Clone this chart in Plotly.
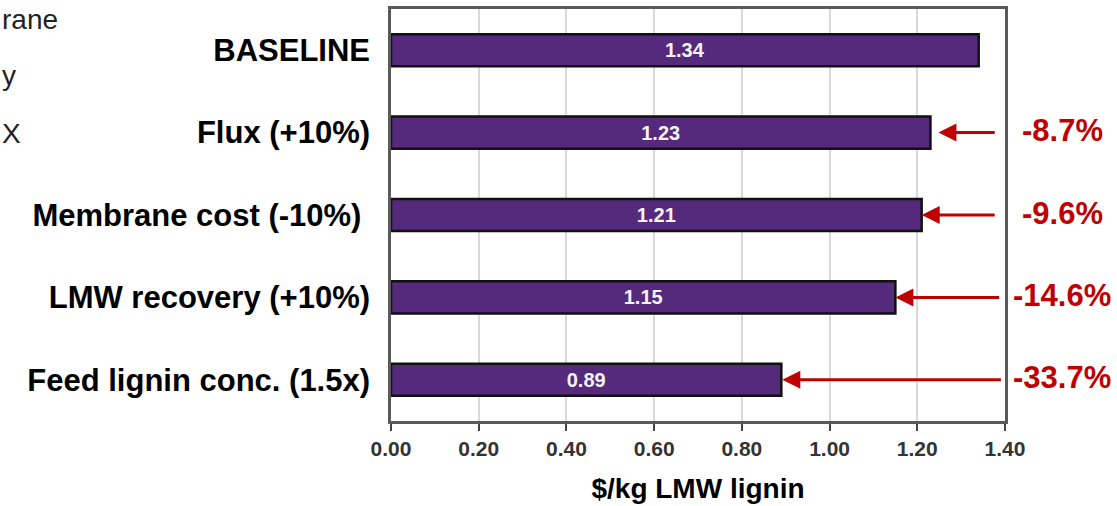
import plotly.graph_objects as go

# ---- data ----
categories = ["BASELINE", "Flux (+10%)", "Membrane cost (-10%)\u00a0",
              "LMW recovery (+10%)", "Feed lignin conc. (1.5x)"]
costs = [1.34, 1.23, 1.21, 1.15, 0.89]
value_labels = ["1.34", "1.23", "1.21", "1.15", "0.89"]
pct_labels = ["", "-8.7%", "-9.6%", "-14.6%", "-33.7%"]
x_ticks = [0.0, 0.2, 0.4, 0.6, 0.8, 1.0, 1.2, 1.4]
x_ticklabels = ["0.00", "0.20", "0.40", "0.60", "0.80", "1.00", "1.20", "1.40"]
x_title = "$/kg LMW lignin"
corner_texts = ["rane", "y", "X"]

# ---- style ----
W, H = 1117, 506
ML, MR, MT, MB = 391, 112, 6, 85
FONT = "Liberation Sans, Arial, sans-serif"
PURPLE = "#55297c"
RED = "#c00000"
arrow_tails = [None, 1.38, 1.38, 1.39, 1.394]
arrow_standoff = [0, 8, 0, 0, 1]

fig = go.Figure()
fig.add_trace(go.Bar(
    y=categories, x=costs, orientation="h",
    width=0.39,
    marker=dict(color=PURPLE, line=dict(color="#111111", width=2.5)),
    text=value_labels, textposition="inside", insidetextanchor="middle",
    textangle=0,
    textfont=dict(family=FONT, size=20, color="#f4f4f4", weight="bold"),
    cliponaxis=False, hoverinfo="skip",
))

annotations = []
for i, cat in enumerate(categories):
    if arrow_tails[i] is None:
        continue
    annotations.append(dict(
        x=costs[i], y=cat, xref="x", yref="y",
        ax=arrow_tails[i], ay=cat, axref="x", ayref="y",
        showarrow=True, arrowhead=2, arrowsize=1.2, arrowwidth=3,
        arrowcolor=RED, standoff=arrow_standoff[i], text="",
    ))
    annotations.append(dict(
        x=1.4, y=cat, xref="x", yref="y", xshift=57, yshift=2,
        text="<b>" + pct_labels[i] + "</b>", showarrow=False,
        xanchor="center", yanchor="middle",
        font=dict(family=FONT, size=31, color=RED),
    ))

plot_w = W - ML - MR
plot_h = H - MT - MB
corner_y_px = [17, 73, 131]
for t, ypx in zip(corner_texts, corner_y_px):
    annotations.append(dict(
        x=(0 - ML) / plot_w, y=(H - MB - ypx) / plot_h,
        xref="paper", yref="paper", text=t, showarrow=False,
        xanchor="left", yanchor="middle",
        font=dict(family=FONT, size=28, color="#222222"),
    ))

fig.update_layout(
    width=W, height=H,
    margin=dict(l=ML, r=MR, t=MT, b=MB, pad=0),
    paper_bgcolor="white", plot_bgcolor="white",
    showlegend=False,
    annotations=annotations,
    font=dict(family=FONT),
)
fig.update_xaxes(
    range=[0, 1.4], tickvals=x_ticks, ticktext=x_ticklabels,
    showgrid=True, gridcolor="#d9d9d9", gridwidth=2,
    showline=True, linecolor="#5a5a5a", linewidth=2.5, mirror=True,
    ticks="outside", ticklen=7, tickwidth=2, tickcolor="#444444",
    tickfont=dict(family=FONT, size=21, color="#333333", weight="bold"),
    title=dict(text="<b>" + x_title + "</b>", standoff=20,
               font=dict(family=FONT, size=28, color="#000000")),
    zeroline=False,
)
fig.update_yaxes(
    type="category", categoryorder="array", categoryarray=categories,
    range=[4.5, -0.5],
    showgrid=False, showline=True, linecolor="#5a5a5a", linewidth=2.5,
    mirror=True, ticks="",
    tickfont=dict(family=FONT, size=31, color="#000000", weight="bold"),
    ticklabelstandoff=12,
)

fig.write_html("out.html",
               config={"displayModeBar": False},
               post_script="document.body.style.margin='0';"
                           "document.body.style.padding='0';")
